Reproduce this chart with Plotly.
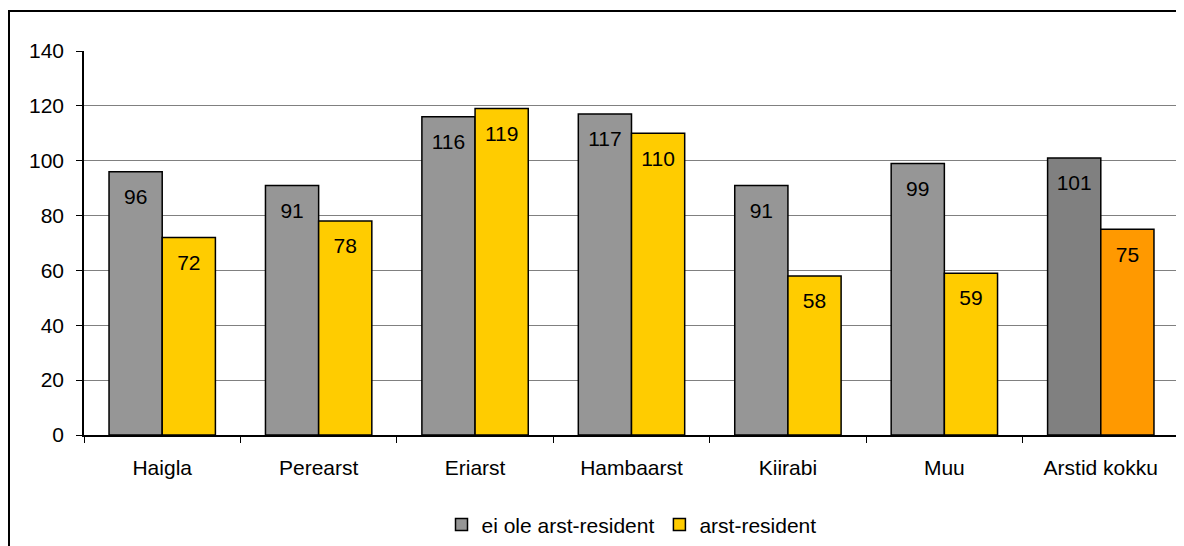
import plotly.graph_objects as go

categories = ["Haigla", "Perearst", "Eriarst", "Hambaarst", "Kiirabi", "Muu", "Arstid kokku"]
non_resident = [96, 91, 116, 117, 91, 99, 101]
resident = [72, 78, 119, 110, 58, 59, 75]

_GREY = "#969696"
_GREY_DARK = "#808080"
_YELLOW = "#FFCC00"
_ORANGE = "#FF9900"
_FONT = "Liberation Sans, Arial, sans-serif"

grey_colors = [_GREY] * (len(categories) - 1) + [_GREY_DARK]
yellow_colors = [_YELLOW] * (len(categories) - 1) + [_ORANGE]

# small blank line above each value pushes the label a little below the bar top
_LABEL = "<span style='font-size:2px'> </span><br>%{y}"

fig = go.Figure()
fig.add_trace(go.Bar(
    x=categories, y=non_resident, name="ei ole arst-resident",
    marker=dict(color=grey_colors, line=dict(color="#000000", width=1.5)),
    texttemplate=_LABEL, textposition="inside", insidetextanchor="end",
    textfont=dict(color="#000000", size=21, family=_FONT),
))
fig.add_trace(go.Bar(
    x=categories, y=resident, name="arst-resident",
    marker=dict(color=yellow_colors, line=dict(color="#000000", width=1.5)),
    texttemplate=_LABEL, textposition="inside", insidetextanchor="end",
    textfont=dict(color="#000000", size=21, family=_FONT),
))

# outer chart frame and right edge of the plot area
fig.add_shape(type="rect", xref="paper", yref="paper",
              x0=-0.0685, x1=1.02, y0=-0.4, y1=1.104,
              line=dict(color="#000000", width=2))
fig.add_shape(type="line", xref="paper", yref="paper",
              x0=1, x1=1, y0=0, y1=1,
              line=dict(color="#808080", width=1.5))

# page body adds an 8px margin, so the figure is sized to fit inside it
fig.update_layout(
    template="plotly_white",
    width=1176, height=538,
    paper_bgcolor="#FFFFFF",
    plot_bgcolor="#FFFFFF",
    font=dict(family=_FONT, color="#000000", size=21),
    barmode="group",
    bargap=0.32,
    bargroupgap=0,
    showlegend=True,
    margin=dict(l=76, r=5, t=43, b=111, autoexpand=False),
    xaxis=dict(
        type="category", tickson="boundaries", ticks="outside", ticklen=6,
        tickcolor="#000000", showline=True, linecolor="#000000", linewidth=1.5,
        showgrid=False, ticklabelstandoff=13, tickfont=dict(size=21),
    ),
    yaxis=dict(
        range=[0, 140], dtick=20, ticks="outside", ticklen=6,
        tickcolor="#000000", showline=True, linecolor="#000000", linewidth=1.5,
        gridcolor="#808080", gridwidth=1.2, zeroline=False,
        ticklabelstandoff=8, tickfont=dict(size=21),
    ),
    legend=dict(
        orientation="h", x=0.5, xanchor="center", y=-0.234, yanchor="middle",
        font=dict(size=21), bgcolor="rgba(0,0,0,0)", traceorder="normal",
    ),
)

fig.write_html("out.html")
